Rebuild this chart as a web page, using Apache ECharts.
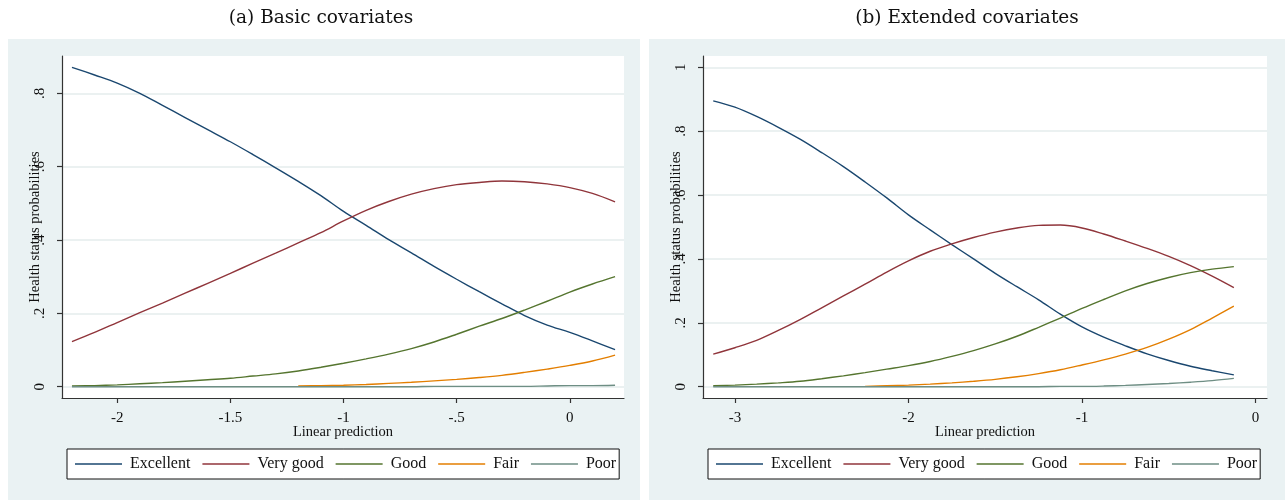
<!DOCTYPE html>
<html><head><meta charset="utf-8">
<script src="https://cdn.jsdelivr.net/npm/echarts@6/dist/echarts.min.js"></script>
<style>html,body{margin:0;padding:0;background:#fff}#c{width:1285px;height:500px}</style>
</head><body><div id="c"></div>
<script>
// ---- Panel (a): Basic covariates ----
const x1 = [-2.2,-2.1,-2.0,-1.9,-1.8,-1.7,-1.6,-1.5,-1.4,-1.3,-1.2,-1.1,-1.0,-0.9,-0.8,-0.7,-0.6,-0.5,-0.4,-0.3,-0.2,-0.1,0.0,0.1,0.2];
const excellent1 = [0.871,0.850,0.828,0.800,0.767,0.734,0.701,0.668,0.633,0.597,0.560,0.521,0.478,0.440,0.401,0.365,0.328,0.293,0.259,0.226,0.194,0.168,0.148,0.125,0.101];
const verygood1  = [0.123,0.148,0.175,0.202,0.228,0.255,0.282,0.309,0.337,0.364,0.392,0.420,0.452,0.481,0.505,0.525,0.540,0.551,0.557,0.561,0.559,0.553,0.543,0.527,0.504];
const good1      = [0.002,0.003,0.005,0.008,0.011,0.015,0.019,0.023,0.029,0.035,0.043,0.053,0.064,0.076,0.089,0.104,0.122,0.143,0.165,0.186,0.209,0.233,0.258,0.280,0.300];
const fair1      = [null,null,null,null,null,null,null,null,null,null,0.002,0.003,0.004,0.006,0.009,0.012,0.016,0.020,0.025,0.031,0.039,0.048,0.058,0.070,0.086];
const poor1      = [0,0,0,0,0,0,0,0,0,0,0,0,0,0,0,0,0.001,0.001,0.001,0.001,0.001,0.002,0.003,0.003,0.004];

// ---- Panel (b): Extended covariates ----
const x2 = [-3.125,-3.0,-2.875,-2.75,-2.625,-2.5,-2.375,-2.25,-2.125,-2.0,-1.875,-1.75,-1.625,-1.5,-1.375,-1.25,-1.125,-1.0,-0.875,-0.75,-0.625,-0.5,-0.375,-0.25,-0.125];
const excellent2 = [0.895,0.875,0.846,0.812,0.775,0.733,0.689,0.641,0.591,0.538,0.491,0.445,0.400,0.355,0.313,0.272,0.227,0.187,0.155,0.128,0.103,0.082,0.064,0.050,0.037];
const verygood2  = [0.102,0.122,0.145,0.176,0.210,0.247,0.284,0.321,0.359,0.394,0.424,0.447,0.467,0.484,0.497,0.505,0.506,0.497,0.478,0.456,0.433,0.408,0.379,0.346,0.310];
const good2      = [0.003,0.005,0.008,0.012,0.017,0.025,0.034,0.044,0.055,0.066,0.079,0.095,0.113,0.134,0.158,0.186,0.215,0.245,0.273,0.300,0.323,0.342,0.357,0.368,0.376];
const fair2      = [null,null,null,null,null,null,null,0.001,0.003,0.005,0.008,0.012,0.017,0.023,0.031,0.041,0.053,0.068,0.084,0.102,0.123,0.149,0.179,0.215,0.252];
const poor2      = [0,0,0,0,0,0,0,0,0,0,0,0,0,0,0,0,0.001,0.001,0.002,0.004,0.007,0.010,0.014,0.019,0.026];

const seriesNames = ['Excellent','Very good','Good','Fair','Poor'];
const colors = ['#1a476f','#90353b','#55752f','#e37e00','#6e8e84'];
const xTicks1 = [-2,-1.5,-1,-0.5,0];
const xTicks2 = [-3,-2,-1,0];
const yTicks1 = [0,0.2,0.4,0.6,0.8];
const yTicks2 = [0,0.2,0.4,0.6,0.8,1];
const titles = ['(a) Basic covariates','(b) Extended covariates'];
const xTitle = 'Linear prediction';
const yTitle = 'Health status probabilities';

const serif = 'Liberation Serif';
const fmt = v => { if (v === 0) return '0'; return String(v).replace(/^(-?)0\./, '$1.'); };
const zip = (xs, ys) => xs.map((x, i) => [x, ys[i]]);

function xAxisCfg(gi, min, max, ticks) {
  return {
    type: 'value', gridIndex: gi, min: min, max: max,
    name: xTitle, nameLocation: 'middle', nameGap: 27, nameMoveOverlap: false,
    nameTextStyle: {fontFamily: serif, fontSize: 14.5, color: '#111'},
    axisLine: {show: true, onZero: false, lineStyle: {color: '#333', width: 1.2}},
    axisTick: {show: true, length: 5, customValues: ticks, lineStyle: {color: '#333', width: 1.2}},
    axisLabel: {customValues: ticks, formatter: fmt, fontFamily: serif, fontSize: 15, color: '#111', margin: 13},
    splitLine: {show: false}
  };
}
function yAxisCfg(gi, min, max, ticks) {
  return {
    type: 'value', gridIndex: gi, min: min, max: max,
    name: yTitle, nameLocation: 'middle', nameGap: 19, nameRotate: 90, nameMoveOverlap: false,
    nameTextStyle: {fontFamily: serif, fontSize: 14.5, color: '#111'},
    axisLine: {show: true, onZero: false, lineStyle: {color: '#333', width: 1.2}},
    axisTick: {show: true, length: 5, customValues: ticks, lineStyle: {color: '#333', width: 1.2}},
    axisLabel: {customValues: ticks, formatter: fmt, rotate: 90, fontFamily: serif, fontSize: 15, color: '#111', margin: 14},
    splitLine: {show: true, lineStyle: {color: '#e4eced', width: 1.5}}
  };
}

const panels = [
  {x: x1, ys: [excellent1, verygood1, good1, fair1, poor1]},
  {x: x2, ys: [excellent2, verygood2, good2, fair2, poor2]}
];
const series = [];
panels.forEach((p, pi) => {
  p.ys.forEach((ys, si) => {
    series.push({
      name: seriesNames[si], type: 'line', xAxisIndex: pi, yAxisIndex: pi,
      data: zip(p.x, ys), showSymbol: false, symbol: 'none', smooth: 0.35, animation: false,
      lineStyle: {color: colors[si], width: 1.4}, itemStyle: {color: colors[si]}
    });
  });
});

function legendCfg(left) {
  return {
    left: left, top: 449, orient: 'horizontal', data: seriesNames,
    backgroundColor: '#fff', borderColor: '#111', borderWidth: 1,
    padding: [7, 3, 7, 8], itemWidth: 47, itemHeight: 1.6, itemGap: 12, icon: 'rect',
    textStyle: {fontFamily: serif, fontSize: 16, color: '#111', padding: [0, 0, 0, 3]},
    selectedMode: false
  };
}

const chart = echarts.init(document.getElementById('c'));
chart.setOption({
  animation: false,
  backgroundColor: '#fff',
  graphic: [
    {type: 'rect', shape: {x: 8, y: 39, width: 632, height: 461}, style: {fill: '#eaf2f3'}, z: -10},
    {type: 'rect', shape: {x: 649, y: 39, width: 636, height: 461}, style: {fill: '#eaf2f3'}, z: -10}
  ],
  title: [
    {text: titles[0], left: 316, top: 4, textAlign: 'center', textStyle: {fontFamily: 'DejaVu Serif', fontSize: 18.5, fontWeight: 'normal', color: '#111'}},
    {text: titles[1], left: 962, top: 4, textAlign: 'center', textStyle: {fontFamily: 'DejaVu Serif', fontSize: 18.5, fontWeight: 'normal', color: '#111'}}
  ],
  grid: [
    {left: 62, top: 56, width: 562, height: 342, show: true, backgroundColor: '#fff', borderWidth: 0},
    {left: 703, top: 56, width: 564, height: 342, show: true, backgroundColor: '#fff', borderWidth: 0}
  ],
  xAxis: [xAxisCfg(0, -2.244, 0.2395, xTicks1), xAxisCfg(1, -3.184, 0.066, xTicks2)],
  yAxis: [yAxisCfg(0, -0.0308, 0.9018, yTicks1), yAxisCfg(1, -0.0354, 1.0353, yTicks2)],
  legend: [legendCfg(67), legendCfg(708)],
  series: series
});
</script>
</body></html>
